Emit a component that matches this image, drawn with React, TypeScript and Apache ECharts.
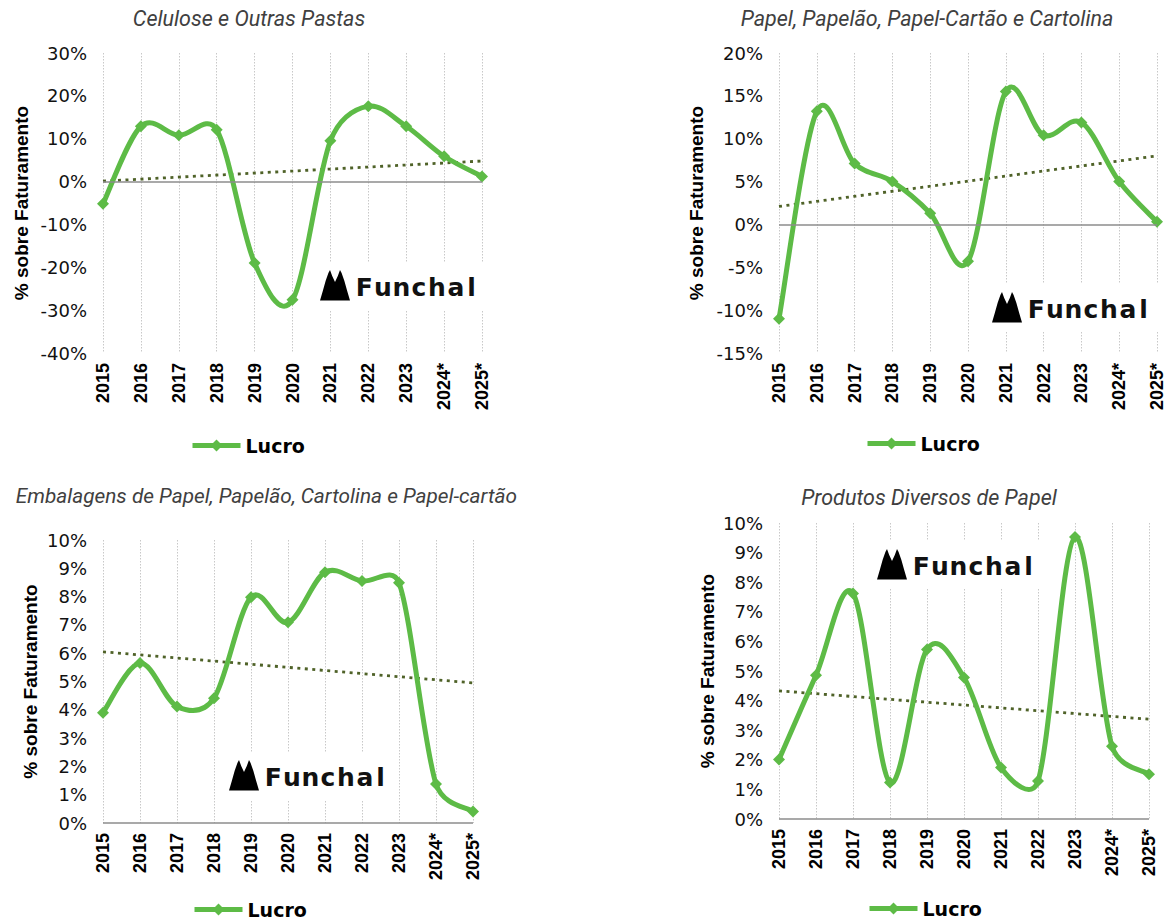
import React, { useEffect, useRef } from 'react';
import * as echarts from 'echarts';

// ---------- DATA ----------
const years = ['2015', '2016', '2017', '2018', '2019', '2020', '2021', '2022', '2023', '2024*', '2025*'];

const celuloseLucro = [-5.2, 12.9, 10.8, 12.1, -19.0, -27.6, 9.5, 17.6, 12.9, 5.9, 1.2];
const papelLucro = [-11.0, 13.2, 7.1, 5.0, 1.3, -4.3, 15.5, 10.4, 11.9, 5.0, 0.3];
const embalagensLucro = [3.9, 5.65, 4.12, 4.41, 7.98, 7.09, 8.86, 8.55, 8.49, 1.38, 0.41];
const diversosLucro = [2.01, 4.86, 7.62, 1.23, 5.73, 4.78, 1.74, 1.28, 9.53, 2.46, 1.51];

// linear trend line end values (2015, 2025*)
const celuloseTrend = [0.1, 4.8];
const papelTrend = [2.1, 8.0];
const embalagensTrend = [6.05, 4.95];
const diversosTrend = [4.33, 3.37];

const panelTitles = [
  'Celulose e Outras Pastas',
  'Papel, Papelão, Papel-Cartão e Cartolina',
  'Embalagens de Papel, Papelão, Cartolina e Papel-cartão',
  'Produtos Diversos de Papel',
];
const yMins = [-40, -15, 0, 0];
const yMaxs = [30, 20, 10, 10];
const yIntervals = [10, 5, 1, 1];

const seriesName = 'Lucro';
const yAxisName = '% sobre Faturamento';
const logoLetters = ['F', 'u', 'n', 'c', 'h', 'a', 'l'];

// ---------- LAYOUT / STYLE ----------
const GREEN = '#5DBB46';
const TREND = '#4F6228';

const panels = [
  { grid: { left: 103, top: 53, width: 379, height: 300 }, title: { x: 249, y: 18, align: 'center', size: 21.5 }, nameGap: 72, legend: { left: 190, top: 436 }, logo: { x: 320, y: 270 } },
  { grid: { left: 779, top: 53, width: 380, height: 300 }, title: { x: 927, y: 18, align: 'center', size: 21.5 }, nameGap: 73, legend: { left: 865, top: 434 }, logo: { x: 992, y: 292 } },
  { grid: { left: 103, top: 540, width: 370, height: 283 }, title: { x: 517, y: 496, align: 'right', size: 20.8 }, nameGap: 63, legend: { left: 192, top: 900 }, logo: { x: 229, y: 760 } },
  { grid: { left: 779, top: 523, width: 370, height: 296 }, title: { x: 929, y: 497, align: 'center', size: 21.5 }, nameGap: 62, legend: { left: 867, top: 899 }, logo: { x: 877, y: 549 } },
];
const letterOffsets = [44.3, 62.9, 81.4, 98.9, 116.9, 136, 151.5];

const lucroData = [celuloseLucro, papelLucro, embalagensLucro, diversosLucro];
const trendData = [celuloseTrend, papelTrend, embalagensTrend, diversosTrend];

function logoGroup(x: number, y: number) {
  const letters = logoLetters.map((ch, k) => ({
    type: 'text',
    z: 1,
    x: letterOffsets[k],
    y: 17.5,
    style: {
      text: ch,
      fontFamily: 'DejaVu Sans',
      fontWeight: 'bold',
      fontSize: 25,
      fill: '#111111',
      align: 'center',
      verticalAlign: 'middle',
    },
  }));
  return {
    type: 'group',
    x,
    y,
    z: 1,
    children: [
      { type: 'rect', z: 1, shape: { x: -6, y: -8, width: 172, height: 48 }, style: { fill: '#ffffff' } },
      {
        type: 'polygon',
        z: 1,
        shape: {
          points: [
            [0, 30.5], [2.8, 21], [5.6, 11], [8.4, 3], [10, 0], [12.2, 6], [15, 12],
            [17.8, 6], [20, 0], [21.6, 3], [24.4, 11], [27.2, 21], [30, 30.5],
          ],
        },
        style: { fill: '#000000' },
      },
      ...letters,
    ],
  };
}

// Excel-like smoothed line: one cubic segment per pair of neighbouring points,
// positioned through the chart's own axes (api.coord).
function splineRenderer(values: number[]) {
  return (_params: any, api: any) => {
    const i = api.value(0);
    const n = values.length;
    const pt = (k: number) => {
      const kk = Math.max(0, Math.min(n - 1, k));
      return api.coord([kk, values[kk]]);
    };
    const dist = (a: number[], b: number[]) => Math.hypot(a[0] - b[0], a[1] - b[1]);
    const p0 = pt(i - 1);
    const p1 = pt(i);
    const p2 = pt(i + 1);
    const p3 = pt(i + 2);
    const d12 = dist(p1, p2);
    const d02 = dist(p0, p2);
    const d13 = dist(p1, p3);
    const f0 = d02 > 0 ? Math.min(1 / 6, d12 / (2 * d02)) : 0;
    const f3 = d13 > 0 ? Math.min(1 / 6, d12 / (2 * d13)) : 0;
    return {
      type: 'bezierCurve',
      shape: {
        x1: p1[0],
        y1: p1[1],
        x2: p2[0],
        y2: p2[1],
        cpx1: p1[0] + (p2[0] - p0[0]) * f0,
        cpy1: p1[1] + (p2[1] - p0[1]) * f0,
        cpx2: p2[0] - (p3[0] - p1[0]) * f3,
        cpy2: p2[1] - (p3[1] - p1[1]) * f3,
      },
      style: { stroke: GREEN, lineWidth: 5, fill: null, lineCap: 'round' },
    };
  };
}

export default function App() {
  const ref = useRef<HTMLDivElement>(null);

  useEffect(() => {
    if (!ref.current) return;
    const chart = echarts.init(ref.current, undefined, { renderer: 'svg' });

    const grids = panels.map((p) => ({ ...p.grid, containLabel: false }));
    const xAxes = panels.map((_, i) => ({
      type: 'category',
      gridIndex: i,
      data: years,
      boundaryGap: false,
      axisLine: { show: false },
      axisTick: { show: false },
      splitLine: { show: true, lineStyle: { color: '#C8C8C8', type: [1.5, 1.5], width: 1 } },
      axisLabel: {
        rotate: 90,
        margin: 10,
        color: '#000000',
        fontFamily: 'Liberation Sans',
        fontWeight: 'bold',
        fontSize: 18,
        interval: 0,
      },
    }));
    const yAxes = panels.map((p, i) => ({
      type: 'value',
      gridIndex: i,
      min: yMins[i],
      max: yMaxs[i],
      interval: yIntervals[i],
      name: yAxisName,
      nameLocation: 'middle',
      nameGap: p.nameGap,
      nameTextStyle: { fontFamily: 'Liberation Sans', fontWeight: 'bold', fontSize: 19, color: '#000000' },
      axisLine: { show: false },
      axisTick: { show: false },
      splitLine: { show: false },
      axisLabel: { formatter: '{value}%', margin: 16, color: '#111111', fontFamily: 'DejaVu Sans', fontSize: 18 },
    }));

    const series: any[] = [];
    panels.forEach((_, i) => {
      const t = trendData[i];
      const vals = lucroData[i];
      series.push({
        name: 'Tendência ' + (i + 1),
        type: 'line',
        xAxisIndex: i,
        yAxisIndex: i,
        z: 2,
        data: [[0, t[0]], [years.length - 1, t[1]]],
        symbol: 'none',
        silent: true,
        lineStyle: { color: TREND, width: 2.8, type: [3, 4.5], cap: 'butt' },
        markLine: {
          silent: true,
          symbol: ['none', 'none'],
          label: { show: false },
          lineStyle: { color: '#8C8C8C', width: 1.6, type: 'solid' },
          data: [{ yAxis: 0 }],
        },
      });
      series.push({
        name: 'Lucro curva ' + (i + 1),
        type: 'custom',
        xAxisIndex: i,
        yAxisIndex: i,
        z: 3,
        silent: true,
        renderItem: splineRenderer(vals),
        data: vals.slice(0, vals.length - 1).map((v, k) => [k, v]),
      });
      series.push({
        name: seriesName,
        type: 'line',
        xAxisIndex: i,
        yAxisIndex: i,
        z: 4,
        data: vals,
        symbol: 'diamond',
        symbolSize: 12,
        lineStyle: { color: GREEN, width: 5, opacity: 0 },
        itemStyle: { color: GREEN },
      });
    });

    const legends = panels.map((p) => ({
      data: [seriesName],
      left: p.legend.left,
      top: p.legend.top,
      padding: 0,
      itemWidth: 48,
      itemHeight: 15,
      selectedMode: false,
      lineStyle: { color: GREEN, width: 5, opacity: 1 },
      textStyle: { fontFamily: 'DejaVu Sans', fontWeight: 'bold', fontSize: 19, lineHeight: 19, color: '#000000' },
    }));

    const graphics: any[] = [];
    panels.forEach((p, i) => {
      graphics.push({
        type: 'text',
        x: p.title.x,
        y: p.title.y,
        style: {
          text: panelTitles[i],
          fontFamily: 'Roboto',
          fontStyle: 'italic',
          fontSize: p.title.size,
          fill: '#404040',
          align: p.title.align,
          verticalAlign: 'middle',
        },
      });
      graphics.push(logoGroup(p.logo.x, p.logo.y));
    });

    chart.setOption({
      animation: false,
      backgroundColor: '#ffffff',
      grid: grids,
      xAxis: xAxes,
      yAxis: yAxes,
      legend: legends,
      series,
      graphic: { elements: graphics },
    });

    return () => chart.dispose();
  }, []);

  return <div ref={ref} style={{ position: 'absolute', left: 0, top: 0, width: 1166, height: 919 }} />;
}
